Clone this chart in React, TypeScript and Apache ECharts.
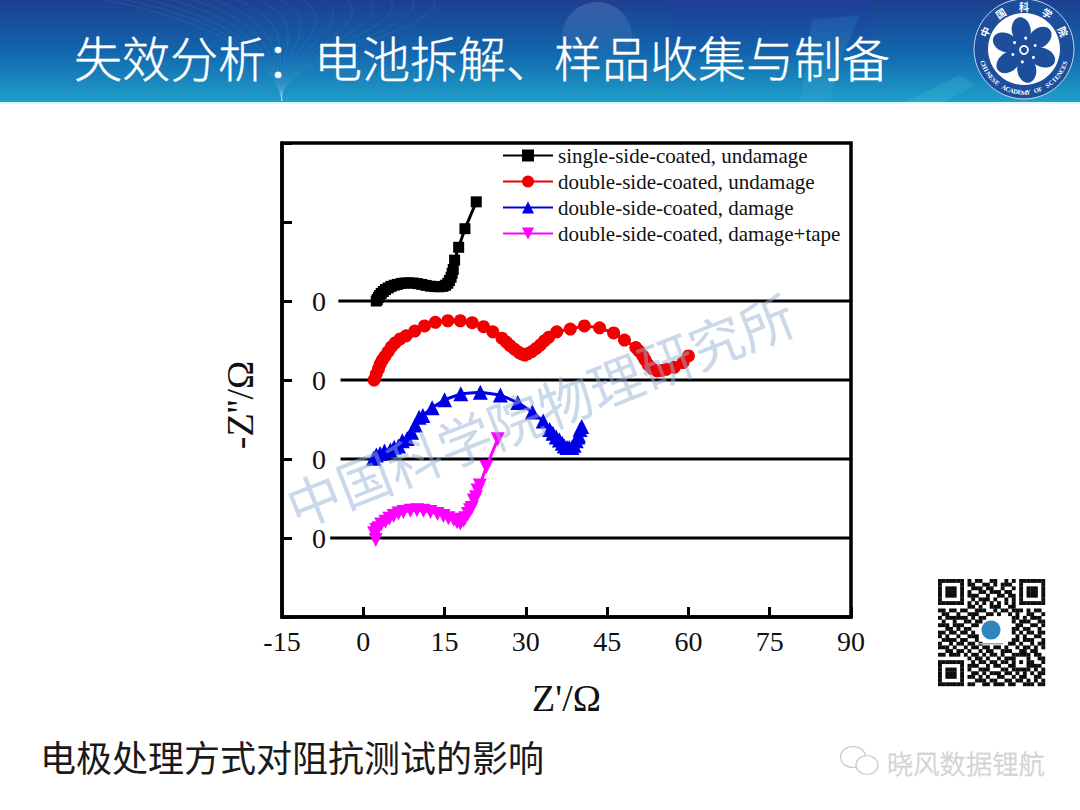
import { useEffect, useRef } from 'react';
import * as echarts from 'echarts';

const SERIF = '"Liberation Serif", serif';
const CJK = '"Noto Sans CJK SC", sans-serif';

const xTicks = { min: -15, max: 90, step: 15 };
const yTickLabels: Record<number, string> = { 0: '0', 20: '0', 40: '0', 60: '0' };

// baseline of each stacked curve, and where its line starts on the x axis
const blackOffset = 60;
const redOffset = 40;
const blueOffset = 20;
const magentaOffset = 0;
const baselineStarts = [-4.6, -4.2, -4.2, -6.1];

const blackData = [
    [2.4, 0], [2.6, 0.4], [2.8, 0.9], [3.0, 1.4], [3.3, 1.9], [3.7, 2.4], [4.1, 2.9], [4.6, 3.3],
    [5.1, 3.7], [5.7, 4.0], [6.3, 4.2], [7.0, 4.45], [7.7, 4.55], [8.4, 4.6], [9.2, 4.55], [10.0, 4.4],
    [10.8, 4.2], [11.6, 3.95], [12.4, 3.75], [13.2, 3.65], [14.0, 3.6], [14.7, 3.7], [15.2, 4.0], [15.6, 4.5],
    [15.9, 5.2], [16.2, 6.0], [16.4, 7.0], [16.6, 8.0], [16.85, 10.35], [17.6, 13.6], [18.76, 18.3], [20.85, 25.1],
];
const redData = [
    [2.0, 0], [2.4, 1.5], [2.8, 2.8], [3.1, 4], [3.5, 5], [4.0, 6], [4.6, 7.2], [5.2, 8.4], [5.9, 9.4],
    [6.8, 10.4], [7.9, 11.2], [9.5, 12.4], [11.3, 13.7], [13.3, 14.6], [15.6, 15], [17.9, 15], [20.1, 14.5],
    [22.2, 13.5], [23.9, 12.2], [25.6, 10.6], [26.4, 9.6], [27.1, 8.7], [27.9, 7.8], [28.7, 7], [29.2, 6.6],
    [29.8, 6.3], [30.4, 6.7], [31.1, 7.2], [31.9, 8], [32.7, 8.9], [33.4, 9.9], [34.2, 10.8], [35.7, 12.2],
    [38.2, 12.9], [40.8, 13.7], [43.6, 13.2], [46.2, 11.9], [48.2, 10.1], [50.3, 8.2], [50.9, 7.3], [51.6, 6.1],
    [52, 5.1], [52.6, 3.8], [53.3, 2.9], [54.2, 2.3], [55, 2.4], [55.9, 2.7], [57.4, 3.2], [59, 4.4], [60, 6.1],
];
const blueData = [
    [1.9, 0.2], [2.4, 1], [3.1, 1.4], [3.9, 2], [5, 2.3], [5.7, 3], [6.5, 3.3], [7.2, 4.6], [8.1, 5.2], [8.9, 6.8],
    [9.6, 8.6], [10.3, 10.6], [11, 11], [12.7, 13], [15, 15], [18, 16.5], [21.6, 16.9], [25.3, 16.2], [28.5, 14.3],
    [31.2, 11.9], [33.2, 9.6], [34.4, 7.5], [35, 6.5], [35.6, 5.6], [36.2, 4.8], [36.7, 4], [37.1, 3.3], [37.6, 2.9],
    [38, 2.9], [38.5, 2.9], [38.9, 3.5], [39.3, 4.6], [39.6, 5.6], [39.7, 6], [40, 7.5], [40.3, 8.2],
];
const magentaData = [
    [2.3, -0.5], [2, 1.2], [2.4, 2], [2.8, 2.5], [3.3, 3.4], [4.1, 4.1], [4.8, 4.9], [5.6, 5.6], [6.5, 6.2],
    [7.4, 6.6], [8.7, 6.9], [9.9, 7], [11.1, 6.9], [12.4, 6.6], [13.7, 6.1], [14.8, 5.6], [15.7, 5], [16.7, 4.6],
    [17.3, 4], [17.9, 3.7], [18.5, 4.4], [18.8, 5], [19.3, 6.1], [19.7, 7], [20, 7.6], [20.4, 9.5], [20.8, 10.3],
    [21.1, 12], [21.5, 13.3], [22.7, 18], [24.8, 25],
];

const seriesNames = [
    'single-side-coated, undamage',
    'double-side-coated, undamage',
    'double-side-coated, damage',
    'double-side-coated, damage+tape',
];

// rough copy of the QR code in the lower right corner
const qrRows = [
    '11111110101100110010101111111',
    '10000010110011010111001000001',
    '10111010011101100100101011101',
    '10111010100110111011001011101',
    '10111010111001001101101011101',
    '10000010010111010010101000001',
    '11111110101010101010101111111',
    '00000000110100111001100000000',
    '11011011001110010110111010110',
    '01100100111001101001010011001',
    '10111111010110000000110101110',
    '01001001101100000000101110011',
    '11101110011000000000011001101',
    '00110101100000000000110110010',
    '11011011010000000000101011011',
    '10100100111000000000010100110',
    '01111011001000000000110111001',
    '10010110110100000001101001011',
    '11101001011011011010010110101',
    '00110110100101100111001101100',
    '11011101011010110100111110110',
    '00000000101101001011100010011',
    '11111110010110110110101011001',
    '10000010111001011001100011110',
    '10111010100111000110111110101',
    '10111010011010111011010101011',
    '10111010110101001100101100110',
    '10000010001110110011011010101',
    '11111110110011011101100111011',
];

const logoTop = ['中', '国', '科', '学', '院'];
const logoBottom = 'CHINESE ACADEMY OF SCIENCES';

const withOffset = (data: number[][], offset: number) => data.map(([x, y]) => [x, y + offset]);

const buildGraphics = () => {
    const elements: any[] = [];
    const fadeDown = (from: string, to: string) => new echarts.graphic.LinearGradient(0, 0, 0, 1, [
        { offset: 0, color: from },
        { offset: 1, color: to },
    ]);
    // banner
    elements.push({
        type: 'rect', silent: true, shape: { x: 0, y: 0, width: 1080, height: 102 },
        style: {
            fill: new echarts.graphic.LinearGradient(0, 0, 0, 1, [
                { offset: 0, color: '#1e3f90' },
                { offset: 0.5, color: '#1265ad' },
                { offset: 1, color: '#1f9fc9' },
            ]),
        },
    });
    elements.push({
        type: 'rect', silent: true, shape: { x: 0, y: 102, width: 1080, height: 2 },
        style: { fill: '#dff6fa' },
    });
    elements.push({
        type: 'circle', silent: true, shape: { cx: 597, cy: 37, r: 35 },
        style: { fill: fadeDown('rgba(125,150,210,0.32)', 'rgba(90,170,210,0)') },
    });
    elements.push({
        type: 'rect', silent: true, shape: { x: 670, y: 0, width: 200, height: 62 },
        style: { fill: fadeDown('rgba(28,60,170,0.35)', 'rgba(28,60,170,0)') },
    });
    elements.push({
        type: 'polygon', silent: true, shape: { points: [[812, 20], [860, 15], [840, 62], [830, 102], [800, 102]] },
        style: { fill: 'rgba(70,190,220,0.14)' },
    });
    elements.push({
        type: 'polygon', silent: true, shape: { points: [[960, 75], [975, 85], [945, 102], [905, 102]] },
        style: { fill: 'rgba(90,210,230,0.18)' },
    });
    [0, 1, 2, 3, 4, 5, 6, 7, 8, 9, 10, 11, 12, 13, 14, 15].forEach((i) => {
        elements.push({
            type: 'bezierCurve', silent: true,
            shape: { x1: 105 + i * 22, y1: 0, x2: 282, y2: 101, cpx1: 200 + i * 16, cpy1: 18 + i, cpx2: 275, cpy2: 55 },
            style: { stroke: 'rgba(255,255,255,0.09)', lineWidth: 0.8, fill: 'none' },
        });
    });
    elements.push({
        type: 'text', silent: true, x: 74, y: 56,
        style: { text: '失效分析：电池拆解、样品收集与制备', font: `300 48px ${CJK}`, fill: '#ffffff', stroke: '#ffffff', lineWidth: 0.4, textVerticalAlign: 'middle' },
    });

    // academy logo
    const cx = 1024;
    const cy = 49;
    elements.push({ type: 'circle', silent: true, shape: { cx, cy, r: 50 }, style: { fill: '#1c4e9c', stroke: '#e8f2f8', lineWidth: 0.8 } });
    elements.push({ type: 'circle', silent: true, shape: { cx, cy, r: 36 }, style: { fill: '#ffffff' } });
    [0, 1, 2, 3, 4, 5].forEach((i) => {
        elements.push({
            type: 'ellipse', silent: true, x: cx, y: cy + 1, rotation: ((i * 60 + 8) * Math.PI) / 180,
            shape: { cx: 0, cy: -20, rx: 9.5, ry: 13 }, style: { fill: '#1c4e9c' },
        });
    });
    elements.push({ type: 'circle', silent: true, shape: { cx, cy: cy + 1, r: 12 }, style: { fill: '#1c4e9c' } });
    elements.push({ type: 'circle', silent: true, shape: { cx, cy: cy + 1, r: 4 }, style: { fill: '#1c4e9c', stroke: '#ffffff', lineWidth: 1.8 } });
    [0, 1, 2, 3, 4, 5].forEach((i) => {
        const a = ((i * 60 + 8) * Math.PI) / 180;
        elements.push({
            type: 'circle', silent: true, shape: { cx: cx + 12 * Math.sin(a), cy: cy + 1 - 12 * Math.cos(a), r: 1.5 },
            style: { fill: '#ffffff' },
        });
    });
    logoTop.forEach((ch, i) => {
        const a = ((i - 2) * 33 * Math.PI) / 180;
        elements.push({
            type: 'text', silent: true, x: cx + 43 * Math.sin(a), y: cy - 43 * Math.cos(a), rotation: -a,
            style: { text: ch, font: `700 10px ${CJK}`, fill: '#ffffff', textAlign: 'center', textVerticalAlign: 'middle' },
        });
    });
    logoBottom.split('').forEach((ch, i) => {
        const a = ((i - (logoBottom.length - 1) / 2) * 5.5 * Math.PI) / 180;
        elements.push({
            type: 'text', silent: true, x: cx + 43 * Math.sin(a), y: cy + 43 * Math.cos(a), rotation: a,
            style: { text: ch, font: `700 6.5px ${SERIF}`, fill: '#ffffff', textAlign: 'center', textVerticalAlign: 'middle' },
        });
    });

    // QR code
    const qrX = 938;
    const qrY = 579;
    const cell = 107 / qrRows.length;
    qrRows.forEach((row, r) => {
        row.split('').forEach((bit, c) => {
            if (bit === '1') {
                elements.push({
                    type: 'rect', silent: true,
                    shape: { x: qrX + c * cell, y: qrY + r * cell, width: cell + 0.2, height: cell + 0.2 },
                    style: { fill: '#0c0c0c' },
                });
            }
        });
    });
    elements.push({ type: 'circle', silent: true, shape: { cx: 991, cy: 630, r: 9.5 }, style: { fill: '#2f86bd' } });
    elements.push({ type: 'rect', silent: true, shape: { x: 979, y: 643, width: 24, height: 1.5 }, style: { fill: '#8aa' } });

    // caption and account name
    elements.push({
        type: 'text', silent: true, x: 40, y: 756,
        style: { text: '电极处理方式对阻抗测试的影响', font: `400 36px ${CJK}`, fill: '#1a1a1a', textVerticalAlign: 'middle' },
    });
    elements.push({ type: 'ellipse', silent: true, shape: { cx: 853, cy: 757, rx: 12.5, ry: 10.5 }, style: { fill: '#fff', stroke: '#c8c8c8', lineWidth: 1.2 } });
    elements.push({ type: 'ellipse', silent: true, shape: { cx: 867, cy: 765, rx: 11, ry: 9.5 }, style: { fill: '#fff', stroke: '#c8c8c8', lineWidth: 1.2 } });
    elements.push({
        type: 'text', silent: true, x: 887, y: 762,
        style: { text: '晓风数据锂航', font: `300 26.3px ${CJK}`, fill: '#d4d4d4', stroke: '#bdbdbd', lineWidth: 0.4, textVerticalAlign: 'middle' },
    });

    // watermark sits over the plot
    elements.push({
        type: 'text', silent: true, z: 100, x: 288, y: 507, rotation: (21.4 * Math.PI) / 180,
        style: { text: '中国科学院物理研究所', font: `400 54px ${CJK}`, fill: 'rgba(150,180,212,0.5)', textVerticalAlign: 'middle' },
    });
    return elements;
};

export default function App() {
    const chartRef = useRef<HTMLDivElement>(null);

    useEffect(() => {
        if (!chartRef.current) return;
        const chart = echarts.init(chartRef.current, undefined, { renderer: 'svg' });

        const baselineSeries = [blackOffset, redOffset, blueOffset, magentaOffset].map((offset, i) => ({
            name: `baseline${i}`,
            type: 'line',
            data: [[baselineStarts[i], offset], [xTicks.max, offset]],
            symbol: 'none',
            silent: true,
            lineStyle: { color: '#000', width: 3 },
            z: 1,
        }));

        const curve = (name: string, data: number[][], offset: number, color: string, symbol: string, symbolSize: number, symbolRotate = 0) => ({
            name,
            type: 'line',
            data: withOffset(data, offset),
            symbol,
            symbolSize,
            symbolRotate,
            showAllSymbol: true,
            itemStyle: { color },
            lineStyle: { color, width: 3 },
            z: 3,
        });

        chart.setOption({
            animation: false,
            backgroundColor: '#fff',
            grid: { left: 282, right: 229, top: 143, bottom: 193, show: true, borderColor: '#000', borderWidth: 3.5, backgroundColor: 'transparent' },
            legend: {
                orient: 'vertical',
                left: 497,
                top: 140,
                itemWidth: 50,
                itemHeight: 15,
                itemGap: 5,
                data: seriesNames,
                textStyle: { fontFamily: SERIF, fontSize: 21, color: '#111' },
            },
            xAxis: {
                type: 'value',
                min: xTicks.min,
                max: xTicks.max,
                interval: xTicks.step,
                name: "Z'/Ω",
                nameLocation: 'middle',
                nameGap: 62,
                nameTextStyle: { fontFamily: SERIF, fontSize: 38, color: '#111' },
                axisLine: { onZero: false, lineStyle: { color: '#000', width: 3.5 } },
                axisTick: { inside: true, length: 10, lineStyle: { color: '#000', width: 3 } },
                axisLabel: { fontFamily: SERIF, fontSize: 28, color: '#111', margin: 10 },
                splitLine: { show: false },
            },
            yAxis: {
                type: 'value',
                min: -20,
                max: 100,
                interval: 20,
                name: "-Z''/Ω",
                nameLocation: 'middle',
                nameGap: 23,
                nameTextStyle: { fontFamily: SERIF, fontSize: 38, color: '#111', padding: [0, 50, 0, 0] },
                axisLine: { onZero: false, lineStyle: { color: '#000', width: 3.5 } },
                axisTick: { inside: true, length: 10, lineStyle: { color: '#000', width: 3 } },
                axisLabel: {
                    inside: true,
                    margin: 30,
                    fontFamily: SERIF,
                    fontSize: 28,
                    color: '#111',
                    formatter: (value: number) => yTickLabels[value] ?? '',
                },
                splitLine: { show: false },
            },
            series: [
                ...baselineSeries,
                curve(seriesNames[0], blackData, blackOffset, '#000', 'rect', 11),
                curve(seriesNames[1], redData, redOffset, '#f00000', 'circle', 13),
                curve(seriesNames[2], blueData, blueOffset, '#0000e6', 'triangle', 15),
                curve(seriesNames[3], magentaData, magentaOffset, '#ff00ff', 'triangle', 14, 180),
            ],
            graphic: { elements: buildGraphics() },
        });

        return () => chart.dispose();
    }, []);

    return <div ref={chartRef} style={{ position: 'fixed', left: 0, top: 0, width: 1080, height: 810 }} />;
}
